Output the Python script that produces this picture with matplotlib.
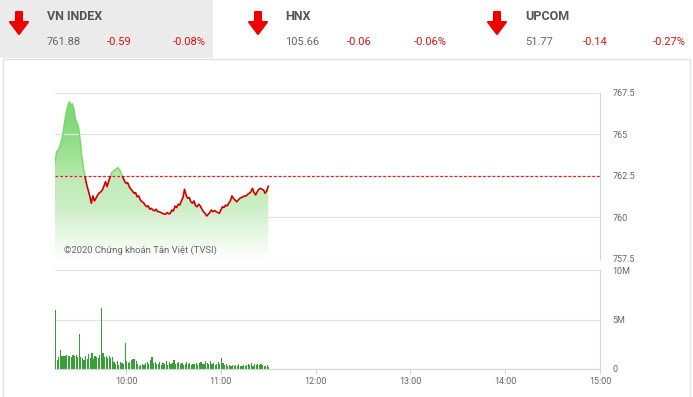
import numpy as np
import matplotlib
matplotlib.use("Agg")
from matplotlib import pyplot as plt
from matplotlib.colors import LinearSegmentedColormap
from matplotlib.patches import Rectangle, Polygon
from matplotlib.path import Path

plt.rcParams['font.family'] = ['Roboto', 'DejaVu Sans']

# header quotes
index_names = ["VN INDEX", "HNX", "UPCOM"]
index_values = ["761.88", "105.66", "51.77"]
index_changes = ["-0.59", "-0.06", "-0.14"]
index_pcts = ["-0.08%", "-0.06%", "-0.27%"]

# intraday VN-Index, minutes after 9:15
price_minutes = list(range(136))
prices = [763.28, 763.95, 764.05, 764.27, 764.6, 765.07, 765.7, 766.28, 766.7, 766.98,
          766.8, 766.85, 766.55, 765.9, 765.7, 765.4, 764.6, 763.7, 763.0, 762.46,
          762.0, 761.66, 761.3, 760.86, 761.3, 761.0, 761.18, 761.35, 761.48, 761.55,
          761.66, 761.9, 762.16, 761.86, 762.2, 762.46, 762.7, 762.8, 762.86, 762.95,
          763.0, 762.85, 762.66, 762.42, 762.2, 762.06, 762.1, 761.86, 761.7, 761.6,
          761.46, 761.5, 761.25, 761.3, 761.06, 760.95, 760.9, 760.75, 760.65, 760.7,
          760.5, 760.55, 760.45, 760.4, 760.5, 760.35, 760.35, 760.3, 760.25, 760.21,
          760.2, 760.3, 760.22, 760.25, 760.45, 760.4, 760.69, 760.6, 760.8, 760.75,
          761.0, 761.2, 761.7, 761.35, 761.16, 761.2, 760.95, 760.86, 761.0, 760.7,
          760.65, 760.8, 760.69, 760.5, 760.35, 760.25, 760.09, 760.2, 760.3, 760.45,
          760.35, 760.42, 760.35, 760.3, 760.25, 760.45, 760.65, 760.6, 760.75, 760.7,
          760.86, 761.0, 761.3, 761.15, 761.05, 760.95, 761.05, 761.16, 761.2, 761.25,
          761.3, 761.3, 761.4, 761.46, 761.55, 761.76, 761.5, 761.36, 761.55, 761.7,
          761.76, 761.7, 761.66, 761.46, 761.6, 761.88]
ref_price = 762.47

# volume per minute, millions
volumes = [5.95, 0.9, 1.2, 1.9, 1.3, 1.35, 1.3, 1.4, 1.35, 1.3, 1.25, 1.4, 1.3, 1.45, 1.2,
           3.5,
           1.2, 1.1, 0.9, 1.3, 1.0, 1.5, 1.1, 1.6, 1.0, 1.3, 1.2, 1.1, 1.4,
           6.2,
           1.65, 1.2, 1.3, 1.1, 1.35, 1.15, 1.25, 0.7, 0.55, 0.8, 0.45, 0.75, 0.6, 0.5,
           2.65,
           0.8, 0.6, 0.7, 0.9, 1.0, 1.05, 0.85, 0.5, 0.35, 0.4, 0.55, 0.45, 0.6, 0.75, 0.5, 0.9,
           1.25,
           0.6, 0.75, 0.5, 0.55, 0.7, 0.4, 0.6, 0.55, 0.8, 0.45, 0.7, 0.5, 0.65, 0.9, 0.55,
           0.6, 0.75, 0.5, 0.6, 0.45, 0.55, 0.7, 0.5, 0.6, 0.4, 0.55, 0.5, 0.65, 0.45, 0.6,
           0.7, 0.5, 0.55, 0.8, 0.6, 0.5,
           0.85,
           0.5, 0.6, 0.4, 0.55, 0.7, 0.5,
           1.1,
           0.6, 0.45, 0.5, 0.35, 0.4, 0.3, 0.45, 0.35, 0.4, 0.3, 0.5, 0.35, 0.3, 0.4, 0.35,
           0.45, 0.55, 0.4, 0.6, 0.35, 0.5, 0.45, 0.55, 0.4, 0.5, 0.45, 0.35, 0.3, 0.4, 0.25]

price_ticks = [757.5, 760, 762.5, 765, 767.5]
price_tick_labels = ["757.5", "760", "762.5", "765", "767.5"]
vol_ticks = [0, 5, 10]
vol_tick_labels = ["0", "5M", "10M"]
hour_ticks = [10, 11, 12, 13, 14, 15]
hour_labels = ["10:00", "11:00", "12:00", "13:00", "14:00", "15:00"]

t0, t1 = 9.25, 15.0
p_lo, p_hi = 757.5, 767.5
grid_c = '#e4e4e4'
frame_c = '#cfd8dc'
text_c = '#666666'

fig = plt.figure(figsize=(6.93, 3.97), dpi=100)

# background / header in pixel coords
bg = fig.add_axes([0, 0, 1, 1], zorder=-5)
bg.set_xlim(0, 693)
bg.set_ylim(397, 0)
bg.axis('off')
bg.add_patch(Rectangle((0, 0), 213, 58, color='#ebebeb', lw=0))
bg.add_patch(Rectangle((3, 59), 687, 345, fill=False, ec='#e2e2e2', lw=1))

head_x = [47, 285, 525]
arrow_x = [19, 258, 497]
chg_x = [107, 347, 583]
pct_x = [206, 447, 686]
for i in range(3):
    ax0 = arrow_x[i]
    arrow = [(ax0 - 3, 12), (ax0 + 3, 12), (ax0 + 3, 22), (ax0 + 9, 22), (ax0, 34),
             (ax0 - 9, 22), (ax0 - 3, 22)]
    bg.add_patch(Polygon(arrow, closed=True, color='#ee0000', lw=1.5, joinstyle='round'))
    bg.text(head_x[i], 16, index_names[i], fontsize=9, fontweight='bold', color='#555555',
            ha='left', va='center')
    bg.text(head_x[i], 42, index_values[i], fontsize=8, color=text_c, ha='left', va='center')
    bg.text(chg_x[i], 42, index_changes[i], fontsize=8, color='#e01010', ha='left', va='center')
    bg.text(pct_x[i], 42, index_pcts[i], fontsize=8, color='#e01010', ha='right', va='center')

# price panel
ax = fig.add_axes([55 / 693, 1 - 259 / 397, 545 / 693, 166 / 397])
ax.set_facecolor('none')
t = t0 + np.array(price_minutes) / 60
p = np.array(prices)

poly = ax.fill_between(t, p_lo, p, facecolor='none', edgecolor='none')
grad = np.linspace(0, 1, 256).reshape(-1, 1)
cmap_low = LinearSegmentedColormap.from_list('low', ['#ffffff', '#e4f7e0', '#c9eec2', '#bfeab6'])
im = ax.imshow(grad, extent=[t0, t1, p_lo, ref_price], origin='lower', cmap=cmap_low,
               aspect='auto', zorder=1)
im.set_clip_path(poly.get_paths()[0], transform=ax.transData)

poly2 = ax.fill_between(t, ref_price, p, where=p >= ref_price, interpolate=True,
                        facecolor='none', edgecolor='none')
cmap_high = LinearSegmentedColormap.from_list('high', ['#b4e9aa', '#8bdc80', '#78d46d'])
im2 = ax.imshow(grad, extent=[t0, t1, ref_price, p_hi], origin='lower', cmap=cmap_high,
                aspect='auto', zorder=1)
im2.set_clip_path(Path.make_compound_path(*poly2.get_paths()), transform=ax.transData)

red_line, = ax.plot(t, p, color='#d40000', lw=1.2, zorder=3)
red_line.set_clip_path(Rectangle((t0, p_lo), t1 - t0, ref_price - p_lo, transform=ax.transData))
green_line, = ax.plot(t, p, color='#79d66f', lw=1.0, zorder=3)
green_line.set_clip_path(Rectangle((t0, ref_price), t1 - t0, p_hi - ref_price, transform=ax.transData))

ax.axhline(ref_price, color='#dd2222', lw=0.9, ls=(0, (2.2, 1.6)), zorder=2)

ax.set_xlim(t0, t1)
ax.set_ylim(p_lo, p_hi)
ax.set_xticks([])
ax.set_yticks(price_ticks)
ax.set_yticklabels(price_tick_labels)
ax.yaxis.tick_right()
ax.tick_params(axis='y', length=0, pad=9, labelsize=6.5, labelcolor=text_c)
ax.grid(axis='y', color=grid_c, lw=0.9, zorder=0)
for s in ['top', 'left', 'bottom']:
    ax.spines[s].set_visible(False)
ax.spines['right'].set_color(frame_c)
ax.text(0.016, 0.05, "©2020 Chứng khoán Tân Việt (TVSI)", transform=ax.transAxes,
        fontsize=6.8, color=text_c, ha='left', va='center', zorder=4)

# volume panel
vx = fig.add_axes([55 / 693, 28 / 397, 545 / 693, 99 / 397])
vx.set_facecolor('none')
tv = t0 + np.arange(len(volumes)) / 60
vx.bar(tv, volumes, width=0.75 / 60, align='edge', color='#36a036', lw=0)
vx.set_xlim(t0, t1)
vx.set_ylim(0, 10)
vx.set_yticks(vol_ticks)
vx.set_yticklabels(vol_tick_labels)
vx.yaxis.tick_right()
vx.tick_params(axis='y', length=0, pad=9, labelsize=6.5, labelcolor=text_c)
vx.set_xticks(hour_ticks)
vx.set_xticklabels(hour_labels)
vx.tick_params(axis='x', length=3.5, width=0.8, color=frame_c, pad=2, labelsize=6.5,
               labelcolor=text_c)
vx.grid(axis='y', color=grid_c, lw=0.9, zorder=0)
vx.set_axisbelow(True)
for s in ['top', 'left']:
    vx.spines[s].set_visible(False)
vx.spines['right'].set_color(frame_c)
vx.spines['bottom'].set_color(frame_c)

fig.savefig('out.png', dpi=100)
